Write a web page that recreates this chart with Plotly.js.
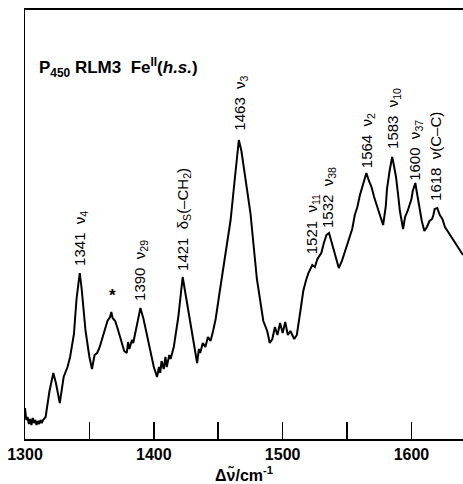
<!DOCTYPE html>
<html>
<head>
<meta charset="utf-8">
<script src="https://cdn.plot.ly/plotly-3.0.1.min.js"></script>
<style>
  html, body { margin: 0; padding: 0; background: #fff; }
  #chart { width: 463px; height: 484px; }
</style>
</head>
<body>
<div id="chart"></div>
<script>
// Raman shift (cm-1) and relative intensity (arbitrary units)
const wavenumber = [1300,1301,1302,1303,1304,1305,1306,1307,1308,1309,1310,1311,1312,1313,1314,1316,1319,1322,1324,1327,
  1330,1333,1335,1338,1340,1342.5,1344,1347,1350,1352,1354,1356,1358,1360,1362,1364,1366,1367,1368,1370,
  1372,1374,1377,1379,1380,1381,1383,1384,1386,1387,1389.6,1392,1395,1398,1400,1402.5,1404,1405,1406,1407.7,
  1409,1410,1412,1413,1415.5,1419,1422.4,1425,1429,1433.6,1435,1436,1438,1440,1442,1444,1446,1448,1451,1455,
  1459.6,1463,1466,1468,1471,1475,1480,1485,1488,1490,1492,1494,1496,1498,1500,1502,1504,1506,1509,1511,
  1514,1516,1518,1520,1523,1525,1527,1530,1532,1534,1536,1538,1540,1543.6,1546,1548,1550,1552,1554,1556,
  1558,1560,1562,1565,1567,1569,1571,1573,1576,1578,1580,1581,1583,1585,1586,1588,1590,1591,1593.5,1595,
  1597,1599,1600,1601,1603,1604,1606,1608,1610,1612,1614,1616,1617,1618,1620,1622,1624,1626,1628,1630,
  1632,1634,1636,1638,1640];
const intensity = [31,19,22,15,20,14,21,16,19,14,18,15,19,16,19,22,48,66,56,36,
  62,72,82,105,140,166,150,108,82,70,84,86,92,100,108,118,122,127,121,118,
  110,102,88,86,97,90,99,96,108,115,131,120,102,82,72,62,72,66,78,70,
  82,72,84,80,92,122,162,142,110,76,90,86,96,92,102,98,108,120,146,180,
  219,262,299,288,262,226,160,118,108,96,100,112,104,116,106,117,104,108,100,104,
  130,148,158,166,174,172,180,186,196,204,206,196,186,171,178,186,192,200,210,224,
  232,244,252,266,258,252,242,234,222,214,232,250,268,282,276,262,240,228,210,222,
  228,236,240,248,256,248,232,218,208,212,218,220,224,230,231,224,220,212,208,204,
  200,196,192,188,184];

// Peak labels (rotated), positions
const labelText = ["1341&nbsp; ν<sub>4</sub>", "1390&nbsp; ν<sub>29</sub>", "1421&nbsp; δ<sub>S</sub>(–CH<sub>2</sub>)", "1463&nbsp; ν<sub>3</sub>",
  "1521&nbsp; ν<sub>11</sub>", "1532&nbsp; ν<sub>38</sub>", "1564&nbsp; ν<sub>2</sub>", "1583&nbsp; ν<sub>10</sub>", "1600&nbsp; ν<sub>37</sub>", "1618&nbsp; ν(C–C)"];
const labelX = [1343, 1389.6, 1423, 1467, 1523, 1535.6, 1566, 1586, 1603, 1618.6];
const labelY = [172, 137, 167, 307, 184, 210, 270, 289, 257, 237];

const tickVals = [1300, 1350, 1400, 1450, 1500, 1550, 1600];
const tickText = ["1300", "", "1400", "", "1500", "", "1600"];

const FONT = "Liberation Sans, Arial, Helvetica, sans-serif";

const annotations = labelText.map((t, i) => ({
  x: labelX[i], y: labelY[i], xref: "x", yref: "y",
  text: t, textangle: -90, showarrow: false,
  xanchor: "center", yanchor: "bottom", borderpad: 0,
  font: { family: FONT, size: 15, color: "#000" }
}));
annotations.push({
  x: 1368, y: 144, xref: "x", yref: "y", text: "<b>*</b>", showarrow: false,
  xanchor: "center", yanchor: "middle", font: { family: FONT, size: 17, color: "#000" }
});
annotations.push({
  x: 0.027, y: 0.867, xref: "paper", yref: "paper",
  text: "<b>P<sub>450</sub> RLM3  Fe<sup>II</sup>(<i>h.s.</i>)</b>",
  showarrow: false, xanchor: "left", yanchor: "middle",
  font: { family: FONT, size: 17, color: "#000" }
});

const trace = {
  x: wavenumber, y: intensity, type: "scatter", mode: "lines",
  line: { color: "#000", width: 2 }, hoverinfo: "skip"
};

const layout = {
  width: 463, height: 484,
  margin: { l: 25, r: 0, t: 10, b: 45, pad: 0 },
  paper_bgcolor: "#fff", plot_bgcolor: "#fff",
  showlegend: false,
  xaxis: {
    range: [1300, 1640], showgrid: false, zeroline: false,
    showline: true, linecolor: "#000", linewidth: 2, mirror: true,
    ticks: "inside", ticklen: 17, tickwidth: 1.5, tickcolor: "#000",
    tickvals: tickVals, ticktext: tickText,
    tickfont: { family: FONT, size: 16, color: "#000", weight: "bold" },
    title: { text: "<b>Δν̃/cm<sup>-1</sup></b>", standoff: 10, font: { family: FONT, size: 16, color: "#000" } },
    automargin: false
  },
  yaxis: {
    range: [0, 429], showgrid: false, zeroline: false,
    showline: true, linecolor: "#000", linewidth: 1.5,
    showticklabels: false, ticks: "", automargin: false
  },
  annotations: annotations
};

Plotly.newPlot("chart", [trace], layout, { staticPlot: true, displayModeBar: false });
</script>
</body>
</html>
